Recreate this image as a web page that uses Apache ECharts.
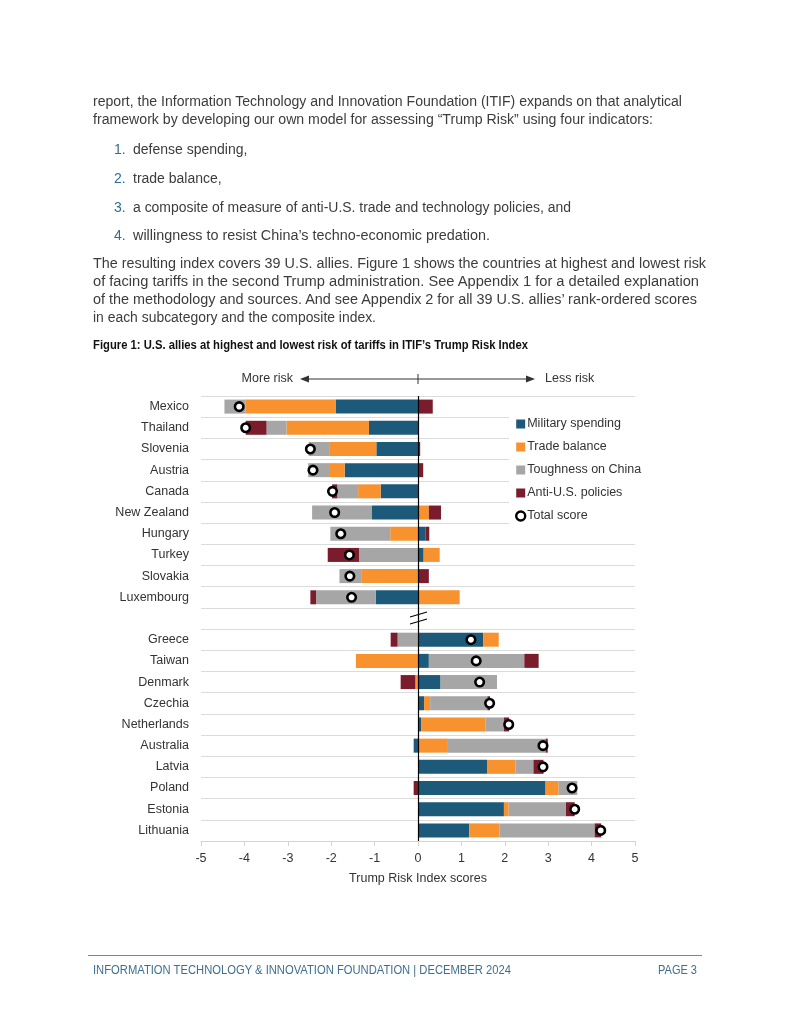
<!DOCTYPE html>
<html>
<head>
<meta charset="utf-8">
<script src="https://cdn.jsdelivr.net/npm/echarts@6/dist/echarts.min.js"></script>
<style>
  html, body { margin:0; padding:0; background:#fff; }
  #page { position:relative; width:791px; height:1024px; overflow:hidden; }
  #chart { position:absolute; left:0; top:0; width:791px; height:1024px; }
  .t { position:absolute; white-space:nowrap; font-family:"Liberation Sans", Arial, sans-serif; font-size:14px; color:#3c3c3c; line-height:18px; z-index:2; transform-origin:left center; }
  .num { color:#2f6d94; }
  .title { font-weight:bold; font-size:12.5px; color:#111; font-family:"Liberation Sans Narrow","Liberation Sans",Arial,sans-serif; }
  .foot { color:#3f6f8f; font-size:12px; }
  #rule { position:absolute; left:88px; top:955px; width:614px; height:1px; background:#6a8aa0; z-index:2; }
</style>
</head>
<body>
<div id="page">
  <div id="chart"></div>
  <span class="t" data-x="93" data-y="101" data-w="589">report, the Information Technology and Innovation Foundation (ITIF) expands on that analytical</span>
  <span class="t" data-x="93" data-y="119" data-w="560">framework by developing our own model for assessing “Trump Risk” using four indicators:</span>
  <span class="t num" data-x="114" data-y="149">1.</span>
  <span class="t" data-x="133" data-y="149">defense spending,</span>
  <span class="t num" data-x="114" data-y="178">2.</span>
  <span class="t" data-x="133" data-y="178">trade balance,</span>
  <span class="t num" data-x="114" data-y="207">3.</span>
  <span class="t" data-x="133" data-y="207" data-w="438">a composite of measure of anti-U.S. trade and technology policies, and</span>
  <span class="t num" data-x="114" data-y="235">4.</span>
  <span class="t" data-x="133" data-y="235" data-w="357">willingness to resist China’s techno-economic predation.</span>
  <span class="t" data-x="93" data-y="263" data-w="613">The resulting index covers 39 U.S. allies. Figure 1 shows the countries at highest and lowest risk</span>
  <span class="t" data-x="93" data-y="281" data-w="606">of facing tariffs in the second Trump administration. See Appendix 1 for a detailed explanation</span>
  <span class="t" data-x="93" data-y="299" data-w="604">of the methodology and sources. And see Appendix 2 for all 39 U.S. allies’ rank-ordered scores</span>
  <span class="t" data-x="93" data-y="317" data-w="283">in each subcategory and the composite index.</span>
  <span class="t title" data-x="93" data-y="345" data-w="435">Figure 1: U.S. allies at highest and lowest risk of tariffs in ITIF’s Trump Risk Index</span>
  <div id="rule"></div>
  <span class="t foot" data-x="93" data-y="970" data-w="418">INFORMATION TECHNOLOGY &amp; INNOVATION FOUNDATION | DECEMBER 2024</span>
  <span class="t foot" data-x="658" data-y="970" data-w="39">PAGE 3</span>
</div>
<script>
// ---- data ----
const categories = ['Mexico','Thailand','Slovenia','Austria','Canada','New Zealand','Hungary','Turkey','Slovakia','Luxembourg','',
  'Greece','Taiwan','Denmark','Czechia','Netherlands','Australia','Latvia','Poland','Estonia','Lithuania'];
const militarySpending = [-1.90,-1.13,-0.96,-1.69,-0.86,-1.06,0.17,0.13,0,-0.97,null,1.50,0.25,0.52,0.14,0.07,-0.10,1.59,2.94,1.98,1.18];
const tradeBalance     = [-2.07,-1.90,-1.07,-0.36,-0.52,0.25,-0.64,0.37,-1.31,0.96,null,0.36,-1.43,-0.06,0.14,1.49,0.69,0.66,0.30,0.11,0.70];
const toughnessChina   = [-0.49,-0.46,-0.49,-0.48,-0.48,-1.38,-1.38,-1.36,-0.50,-1.38,null,-0.47,2.20,1.30,1.32,0.42,2.25,0.41,0.43,1.32,2.19];
const antiUSPolicies   = [0.34,-0.48,0.05,0.12,-0.12,0.28,0.09,-0.72,0.25,-0.13,null,-0.16,0.33,-0.34,0.06,0.12,0.05,0.23,-0.10,0.20,0.15];
const totalScore       = [-4.12,-3.97,-2.48,-2.42,-1.97,-1.92,-1.78,-1.58,-1.57,-1.53,null,1.22,1.34,1.42,1.65,2.09,2.88,2.88,3.55,3.61,4.21];
const xTicks = [-5,-4,-3,-2,-1,0,1,2,3,4,5];
const seriesNames = ['Military spending','Trade balance','Toughness on China','Anti-U.S. policies','Total score'];

// ---- fit text lines ----
document.querySelectorAll('.t').forEach(el => {
  const x = +el.dataset.x, y = +el.dataset.y;
  el.style.left = x + 'px';
  el.style.top = (y - 9) + 'px';
  if (el.dataset.w) {
    const w = el.getBoundingClientRect().width;
    el.style.transform = 'scaleX(' + (+el.dataset.w / w) + ')';
  }
});

const FONT = '"Liberation Sans", Arial, sans-serif';
const colors = ['#1d5a7a','#f7922f','#a6a6a6','#7b1c2c'];
const chart = echarts.init(document.getElementById('chart'), null, {renderer:'canvas'});

function barSeries(name, data, color) {
  return {
    name, type:'bar', stack:'risk', data, barWidth:14,
    itemStyle:{ color }, emphasis:{ disabled:true }
  };
}

const option = {
  animation:false,
  textStyle:{ fontFamily:FONT },
  grid:{ left:201, right:156, top:396, bottom:183, containLabel:false },
  xAxis:{
    type:'value', min:xTicks[0], max:xTicks[xTicks.length-1], interval:1,
    axisLine:{ show:true, lineStyle:{ color:'#d4d4d4', width:1 } },
    axisTick:{ show:true, length:5, lineStyle:{ color:'#d4d4d4' } },
    axisLabel:{ color:'#333', fontSize:12.5, margin:11, fontFamily:FONT },
    splitLine:{ show:false },
    name:'Trump Risk Index scores', nameLocation:'middle', nameGap:31,
    nameTextStyle:{ color:'#333', fontSize:12.5, fontFamily:FONT }
  },
  yAxis:{
    type:'category', data:categories, inverse:true,
    axisLine:{ show:false }, axisTick:{ show:false },
    axisLabel:{ color:'#333', fontSize:12.5, margin:12, fontFamily:FONT },
    splitLine:{ show:true, lineStyle:{ color:'#dcdcdc', width:1 } }
  },
  legend:{
    orient:'vertical', left:509, top:412, padding:[5,6,5,6],
    backgroundColor:'#fff', itemWidth:9, itemHeight:9, itemGap:9,
    textStyle:{ color:'#333', fontSize:12.5, fontFamily:FONT, lineHeight:14, padding:[0,0,0,-3] },
    data:[
      { name:seriesNames[0], icon:'rect' },
      { name:seriesNames[1], icon:'rect' },
      { name:seriesNames[2], icon:'rect' },
      { name:seriesNames[3], icon:'rect' },
      { name:seriesNames[4], icon:'circle', itemStyle:{ color:'#fff', borderColor:'#000', borderWidth:2.4 } }
    ],
    selectedMode:false
  },
  series:[
    barSeries(seriesNames[0], militarySpending, colors[0]),
    barSeries(seriesNames[1], tradeBalance, colors[1]),
    barSeries(seriesNames[2], toughnessChina, colors[2]),
    barSeries(seriesNames[3], antiUSPolicies, colors[3]),
    {
      name:seriesNames[4], type:'scatter', data:totalScore, symbol:'circle', symbolSize:8.5, z:5,
      itemStyle:{ color:'#fff', borderColor:'#000', borderWidth:2.6, opacity:1 },
      emphasis:{ disabled:true },
      markLine:{
        silent:true, symbol:['none','none'], label:{ show:false },
        lineStyle:{ color:'#000', width:1.2, type:'solid' },
        data:[{ xAxis:0 }]
      }
    }
  ]
};
chart.setOption(option);

// ---- decorations (break mark, risk arrow) positioned through the axes ----
const breakPt = chart.convertToPixel({ gridIndex:0 }, [0, categories.indexOf('')]);
const x0 = breakPt[0], yb = breakPt[1];
const ay = 379;
chart.setOption({
  graphic:[
    { type:'line', shape:{ x1:x0-8, y1:yb-1.5, x2:x0+9, y2:yb-6.5 }, style:{ stroke:'#000', lineWidth:1.1 }, z:10 },
    { type:'line', shape:{ x1:x0-8, y1:yb+5.5, x2:x0+9, y2:yb+0.5 }, style:{ stroke:'#000', lineWidth:1.1 }, z:10 },
    { type:'text', style:{ text:'More risk', x:293, y:ay, align:'right', verticalAlign:'middle', fill:'#333', font:'12.5px ' + FONT } },
    { type:'text', style:{ text:'Less risk', x:545, y:ay, align:'left', verticalAlign:'middle', fill:'#333', font:'12.5px ' + FONT } },
    { type:'line', shape:{ x1:302, y1:ay, x2:533, y2:ay }, style:{ stroke:'#333', lineWidth:1 } },
    { type:'polygon', shape:{ points:[[300,ay],[309,ay-3.5],[309,ay+3.5]] }, style:{ fill:'#333' } },
    { type:'polygon', shape:{ points:[[535,ay],[526,ay-3.5],[526,ay+3.5]] }, style:{ fill:'#333' } },
    { type:'line', shape:{ x1:x0, y1:ay-5, x2:x0, y2:ay+5 }, style:{ stroke:'#333', lineWidth:1 } }
  ]
});
</script>
</body>
</html>
